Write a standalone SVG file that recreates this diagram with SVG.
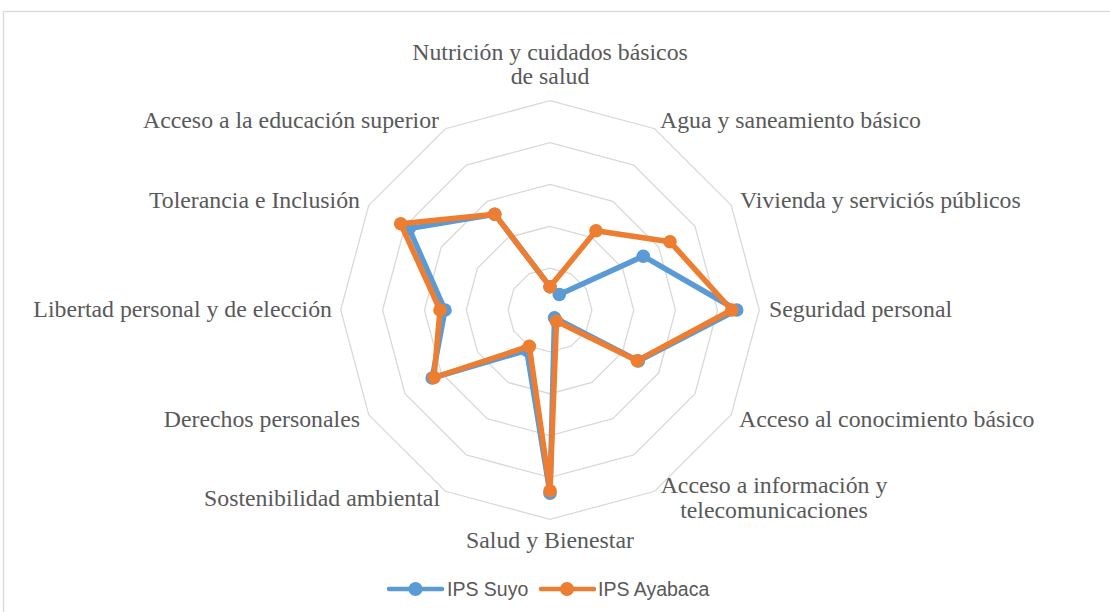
<svg xmlns="http://www.w3.org/2000/svg" width="1110" height="612" viewBox="0 0 1110 612">
<style>
.lbl{font-family:"Liberation Serif","Times New Roman",serif;font-size:23.8px;fill:#595959}
.leg{font-family:"Liberation Sans",Arial,sans-serif;font-size:19.5px;fill:#595959}
.grid{fill:none;stroke:#D9D9D9;stroke-width:1.3}
.s1{fill:none;stroke:#5B9BD5;stroke-width:5.5;stroke-linejoin:round;stroke-linecap:round}
.s2{fill:none;stroke:#ED7D31;stroke-width:5.5;stroke-linejoin:round;stroke-linecap:round}
.m1{fill:#5B9BD5}
.m2{fill:#ED7D31}
</style>
<rect x="0" y="0" width="1110" height="612" fill="#FFFFFF"/>
<rect x="3.5" y="11.5" width="1130" height="630" fill="none" stroke="#D9D9D9" stroke-width="1.3"/>
<g id="grid">
<polygon class="grid" points="550,268.14 570.93,273.75 586.25,289.07 591.86,310 586.25,330.93 570.93,346.25 550,351.86 529.07,346.25 513.75,330.93 508.14,310 513.75,289.07 529.07,273.75"/>
<polygon class="grid" points="550,226.28 591.86,237.5 622.5,268.14 633.72,310 622.5,351.86 591.86,382.5 550,393.72 508.14,382.5 477.5,351.86 466.28,310 477.5,268.14 508.14,237.5"/>
<polygon class="grid" points="550,184.42 612.79,201.25 658.75,247.21 675.58,310 658.75,372.79 612.79,418.75 550,435.58 487.21,418.75 441.25,372.79 424.42,310 441.25,247.21 487.21,201.25"/>
<polygon class="grid" points="550,142.56 633.72,165 695,226.28 717.44,310 695,393.72 633.72,455 550,477.44 466.28,455 405,393.72 382.56,310 405,226.28 466.28,165"/>
<polygon class="grid" points="550,100.7 654.65,128.74 731.26,205.35 759.3,310 731.26,414.65 654.65,491.26 550,519.3 445.35,491.26 368.74,414.65 340.7,310 368.74,205.35 445.35,128.74"/>
</g>
<g id="labels">
<text class="lbl" x="550" y="60" text-anchor="middle">Nutrición y cuidados básicos</text>
<text class="lbl" x="550" y="84" text-anchor="middle">de salud</text>
<text class="lbl" x="660" y="128">Agua y saneamiento básico</text>
<text class="lbl" x="740" y="208">Vivienda y serviciós públicos</text>
<text class="lbl" x="769" y="317">Seguridad personal</text>
<text class="lbl" x="739" y="427">Acceso al conocimiento básico</text>
<text class="lbl" x="774" y="493" text-anchor="middle">Acceso a información y</text>
<text class="lbl" x="774" y="518" text-anchor="middle">telecomunicaciones</text>
<text class="lbl" x="550" y="548" text-anchor="middle">Salud y Bienestar</text>
<text class="lbl" x="440" y="506" text-anchor="end">Sostenibilidad ambiental</text>
<text class="lbl" x="360" y="427" text-anchor="end">Derechos personales</text>
<text class="lbl" x="332" y="317" text-anchor="end">Libertad personal y de elección</text>
<text class="lbl" x="360" y="208" text-anchor="end">Tolerancia e Inclusión</text>
<text class="lbl" x="439" y="128" text-anchor="end">Acceso a la educación superior</text>
</g>
<g id="series-suyo">
<polygon class="s1" points="550,286.7 559.3,294.5 643.3,256.2 736.7,310 638.3,361 554.5,317.8 550,493.3 526.75,350.3 432.2,378 445,310 409.1,228.65 494.7,214.2"/>
<circle class="m1" cx="550" cy="286.7" r="6.8"/>
<circle class="m1" cx="559.3" cy="294.5" r="6.8"/>
<circle class="m1" cx="643.3" cy="256.2" r="6.8"/>
<circle class="m1" cx="736.7" cy="310" r="6.8"/>
<circle class="m1" cx="638.3" cy="361" r="6.8"/>
<circle class="m1" cx="554.5" cy="317.8" r="6.8"/>
<circle class="m1" cx="550" cy="493.3" r="6.8"/>
<circle class="m1" cx="526.75" cy="350.3" r="6.8"/>
<circle class="m1" cx="432.2" cy="378" r="6.8"/>
<circle class="m1" cx="445" cy="310" r="6.8"/>
<circle class="m1" cx="409.1" cy="228.65" r="6.8"/>
<circle class="m1" cx="494.7" cy="214.2" r="6.8"/>
</g>
<g id="series-ayabaca">
<polygon class="s2" points="550,286.7 596,230.7 670,241.7 731.7,310 637.3,360.7 556.5,321.3 550,490.7 529.3,346.2 434,377.5 440,310 400.7,223.8 494.7,214.2"/>
<circle class="m2" cx="550" cy="286.7" r="6.8"/>
<circle class="m2" cx="596" cy="230.7" r="6.8"/>
<circle class="m2" cx="670" cy="241.7" r="6.8"/>
<circle class="m2" cx="731.7" cy="310" r="6.8"/>
<circle class="m2" cx="637.3" cy="360.7" r="6.8"/>
<circle class="m2" cx="556.5" cy="321.3" r="6.8"/>
<circle class="m2" cx="550" cy="490.7" r="6.8"/>
<circle class="m2" cx="529.3" cy="346.2" r="6.8"/>
<circle class="m2" cx="434" cy="377.5" r="6.8"/>
<circle class="m2" cx="440" cy="310" r="6.8"/>
<circle class="m2" cx="400.7" cy="223.8" r="6.8"/>
<circle class="m2" cx="494.7" cy="214.2" r="6.8"/>
</g>
<g id="legend">
<line x1="389" y1="589" x2="442" y2="589" stroke="#5B9BD5" stroke-width="4.5" stroke-linecap="round"/>
<circle class="m1" cx="415.5" cy="589" r="7"/>
<text class="leg" x="447" y="596">IPS Suyo</text>
<line x1="541" y1="589" x2="594" y2="589" stroke="#ED7D31" stroke-width="4.5" stroke-linecap="round"/>
<circle class="m2" cx="567" cy="589" r="7"/>
<text class="leg" x="598" y="596">IPS Ayabaca</text>
</g>
</svg>
